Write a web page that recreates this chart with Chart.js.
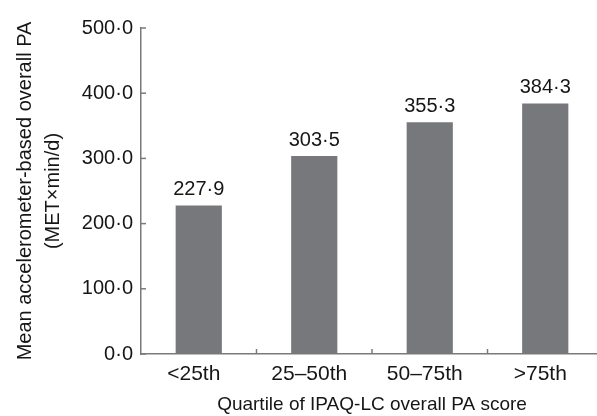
<!DOCTYPE html>
<html>
<head>
<meta charset="utf-8">
<script src="https://cdn.jsdelivr.net/npm/chart.js@4.4.0/dist/chart.umd.min.js"></script>
<style>
  html, body { margin: 0; padding: 0; background: #ffffff; overflow: hidden; }
  #clip { width: 597px; height: 416px; overflow: hidden; position: relative; }
  #wrap { width: 610px; height: 416px; position: absolute; left: 0; top: 0; }
</style>
</head>
<body>
<div id="clip"><div id="wrap"><canvas id="c"></canvas></div></div>
<script>
const categories = ['<25th', '25\u201350th', '50\u201375th', '>75th'];
const meanPA = [227.9, 303.5, 355.3, 384.3];
const yTicks = [0, 100, 200, 300, 400, 500];
const yTitle = ['Mean accelerometer-based overall PA', '(MET\u00D7min/d)'];
const xTitle = 'Quartile of IPAQ-LC overall PA score';

const FONT = "'Liberation Sans', Arial, Helvetica, sans-serif";
const AXIS = '#7a7a7a';
const TEXT = '#161616';
const fmt = v => v.toFixed(1).replace('.', '\u00B7');

const inwardTicks = {
  id: 'inwardTicks',
  afterDraw(chart) {
    const ctx = chart.ctx;
    const xs = chart.scales.x, ys = chart.scales.y;
    const area = chart.chartArea;
    ctx.save();
    ctx.strokeStyle = AXIS;
    ctx.lineWidth = 1.5;
    yTicks.forEach(v => {
      const y = ys.getPixelForValue(v);
      ctx.beginPath();
      ctx.moveTo(area.left, y);
      ctx.lineTo(area.left + 5, y);
      ctx.stroke();
    });
    for (let i = 0; i < categories.length; i++) {
      const x = (xs.getPixelForValue(i) + xs.getPixelForValue(i + 1)) / 2;
      ctx.beginPath();
      ctx.moveTo(x, area.bottom);
      ctx.lineTo(x, area.bottom - 5);
      ctx.stroke();
    }
    ctx.restore();
  }
};

const valueLabels = {
  id: 'valueLabels',
  afterDatasetsDraw(chart) {
    const ctx = chart.ctx;
    const meta = chart.getDatasetMeta(0);
    ctx.save();
    ctx.fillStyle = TEXT;
    ctx.font = '20px ' + FONT;
    ctx.textAlign = 'center';
    ctx.textBaseline = 'alphabetic';
    meta.data.forEach((bar, i) => {
      ctx.fillText(fmt(meanPA[i]), bar.x, bar.y - 10);
    });
    ctx.restore();
  }
};

new Chart(document.getElementById('c'), {
  type: 'bar',
  data: {
    labels: categories,
    datasets: [{
      data: meanPA,
      backgroundColor: '#77787b',
      borderWidth: 0,
      barPercentage: 0.4,
      categoryPercentage: 1.0
    }]
  },
  options: {
    responsive: true,
    maintainAspectRatio: false,
    animation: false,
    devicePixelRatio: 1,
    layout: { padding: { top: 28, right: 7, bottom: 0, left: 0 } },
    plugins: { legend: { display: false }, tooltip: { enabled: false } },
    scales: {
      x: {
        grid: { display: false, drawTicks: false },
        border: { display: true, color: AXIS, width: 1.5 },
        ticks: { color: TEXT, font: { family: FONT, size: 21 }, padding: 8, labelOffset: -5, maxRotation: 0, autoSkip: false },
        title: { display: true, text: xTitle, color: TEXT, font: { family: FONT, size: 19, lineHeight: 1.0 }, padding: { top: 0, bottom: 2 } },
        afterFit(scale) { scale.height = 62; }
      },
      y: {
        min: 0, max: 500,
        afterBuildTicks(scale) { scale.ticks = yTicks.map(v => ({ value: v })); },
        grid: { display: false, drawTicks: false },
        border: { display: true, color: AXIS, width: 1.5 },
        ticks: { color: TEXT, font: { family: FONT, size: 20 }, padding: 8, callback: v => fmt(v) },
        title: { display: true, text: yTitle, color: TEXT, font: { family: FONT, size: 20, lineHeight: 1.4 }, padding: { top: 11, bottom: 0 } },
        afterFit(scale) { scale.width = 141; }
      }
    }
  },
  plugins: [inwardTicks, valueLabels]
});
</script>
</body>
</html>
